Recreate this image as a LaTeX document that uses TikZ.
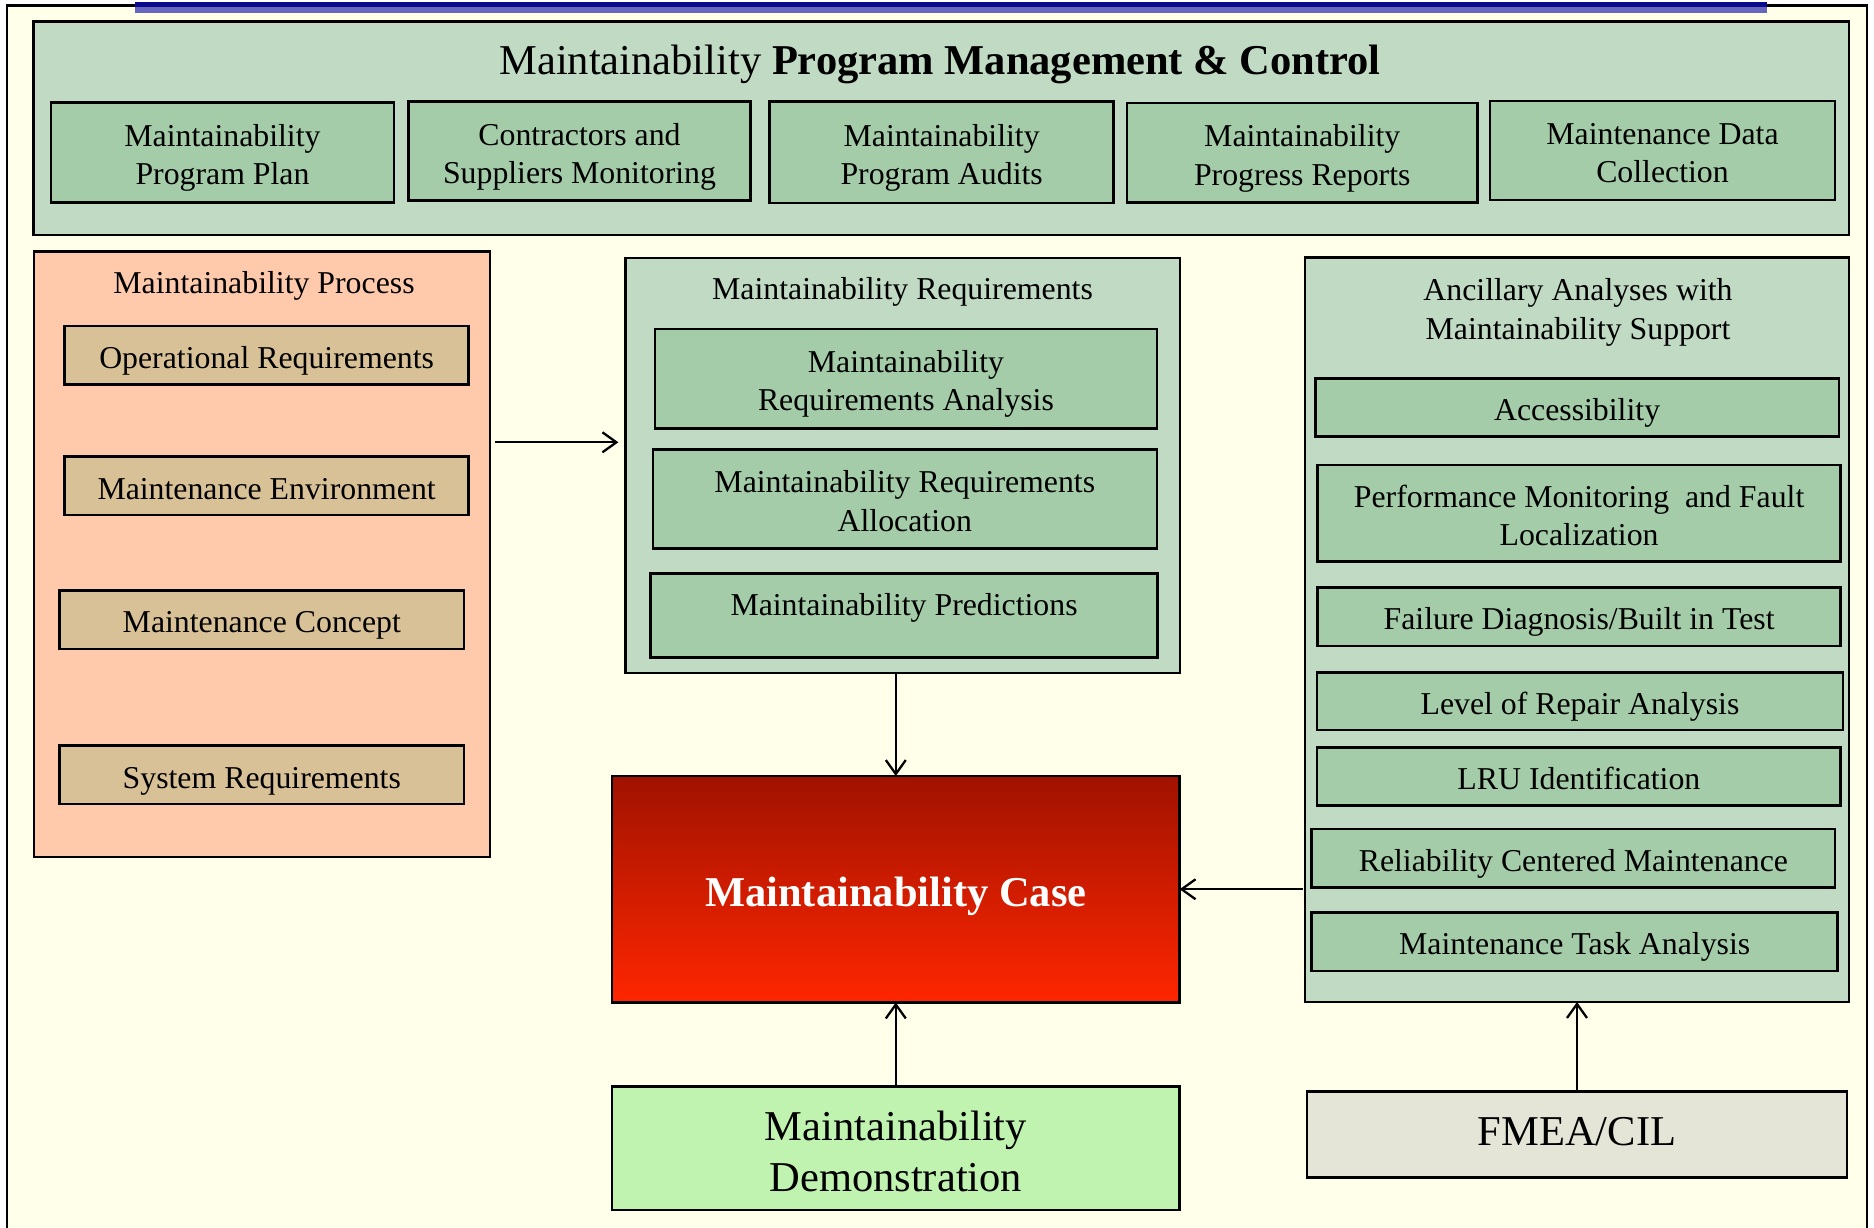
\documentclass[tikz,border=0pt]{standalone}
\usepackage{fontspec}
\setmainfont{Liberation Serif}
\usetikzlibrary{arrows.meta}
\definecolor{bgc}{RGB}{255,255,234}
\definecolor{panelg}{RGB}{192,218,196}
\definecolor{boxg}{RGB}{164,204,168}
\definecolor{salmon}{RGB}{255,202,172}
\definecolor{tanc}{RGB}{216,193,151}
\definecolor{demog}{RGB}{192,242,176}
\definecolor{fmeac}{RGB}{228,229,214}
\definecolor{navyc}{RGB}{10,10,140}
\definecolor{peric}{RGB}{102,102,190}
\definecolor{redtop}{RGB}{160,18,0}
\definecolor{redbot}{RGB}{255,38,0}
\newcommand\stA{\rule{0pt}{1.042em}}
\newcommand\stB{\rule[-0.216em]{0pt}{0pt}}
\newcommand\stAB{\rule[-0.216em]{0pt}{1.258em}}
\begin{document}
\begin{tikzpicture}[x=1pt,y=-1pt,
  every node/.style={inner sep=0pt, outer sep=0pt},
  sm/.style={font=\fontsize{31.8}{38.2}\selectfont, align=center},
  bg/.style={font=\fontsize{42.5}{51}\selectfont, align=center},
  panelbox/.style={draw=black, line width=2.5pt, fill=panelg},
  gbox/.style={draw=black, line width=2.5pt, fill=boxg, sm},
  tbox/.style={draw=black, line width=2.5pt, fill=tanc, sm},
  arr/.style={line width=2.3pt, -{Straight Barb[length=14pt,width=20pt,line width=2.3pt]}}
]
\useasboundingbox (0,0) rectangle (1874,1228);
\fill[white] (0,0) rectangle (1874,1228);
\fill[bgc] (7,6) rectangle (1867,1240);
\draw[line width=2.3pt] (7,1240) -- (7,5.5) -- (1867,5.5) -- (1867,1240);
\fill[navyc] (135,2.5) rectangle (1767,7);
\fill[peric] (135,7) rectangle (1767,13.5);

% top panel
\node[panelbox, minimum width=1815.3pt, minimum height=213.3pt] (pmc) at (941.35,128.35) {};
\node[bg, anchor=base] (pmct) at (940,74.2) {Maintainability \textbf{Program Management \& Control}};
\node[gbox, minimum width=343pt, minimum height=99.6pt] (b1) at (222.5,152.5) {\stA Maintainability\\Program Plan\stB};
\node[gbox, minimum width=342pt, minimum height=98.8pt] (b2) at (579.5,151.1) {\stA Contractors and\\Suppliers Monitoring\stB};
\node[gbox, minimum width=344.1pt, minimum height=101.4pt] (b3) at (941.65,152.3) {\stA Maintainability\\Program Audits\stB};
\node[gbox, minimum width=350.5pt, minimum height=99.7pt] (b4) at (1302.25,152.85) {\stA Maintainability\\Progress Reports\stB};
\node[gbox, minimum width=345pt, minimum height=99pt] (b5) at (1662.5,150.5) {\stA Maintenance Data\\Collection\stB};

% process panel
\node[draw=black, line width=2.5pt, fill=salmon, minimum width=456pt, minimum height=605.1pt] (proc) at (262,554.25) {};
\node[sm] (proct) at (264,285.4) {Maintainability Process};
\node[tbox, minimum width=404pt, minimum height=58.5pt] (opr) at (266.6,355.25) {\stAB Operational Requirements};
\node[tbox, minimum width=404pt, minimum height=58.6pt] (menv) at (266.6,485.9) {\stAB Maintenance Environment};
\node[tbox, minimum width=404.4pt, minimum height=58.7pt] (mcon) at (261.8,619.65) {\stAB Maintenance Concept};
\node[tbox, minimum width=404.4pt, minimum height=58.5pt] (sysr) at (261.8,774.95) {\stAB System Requirements};

% requirements panel
\node[panelbox, minimum width=554.6pt, minimum height=414.6pt] (req) at (902.7,465.5) {};
\node[sm] (reqt) at (902.5,292.1) {Maintainability Requirements};
\node[gbox, minimum width=501.7pt, minimum height=99.3pt] (mra) at (905.95,378.65) {\stA Maintainability\\Requirements Analysis\stB};
\node[gbox, minimum width=504pt, minimum height=99pt] (mral) at (904.8,498.8) {\stA Maintainability Requirements\\Allocation\stB};
\node[gbox, minimum width=507.1pt, minimum height=84pt] (mpred) at (904.05,615.3) {};
\node[sm] (mpredt) at (904.05,607.7) {Maintainability Predictions};

% ancillary panel
\node[panelbox, minimum width=544pt, minimum height=744.7pt] (anc) at (1577,629.65) {};
\node[sm] (anct) at (1578,312.4) {Ancillary Analyses with\\Maintainability Support};
\node[gbox, minimum width=523.4pt, minimum height=58.4pt] (acc) at (1577.1,407.5) {\stAB Accessibility};
\node[gbox, minimum width=523pt, minimum height=96.7pt] (pmf) at (1579.1,513.35) {\stA Performance Monitoring~ and Fault\\Localization\stB};
\node[gbox, minimum width=523pt, minimum height=58.3pt] (fdb) at (1579.1,616.85) {\stAB Failure Diagnosis/Built in Test};
\node[gbox, minimum width=525.6pt, minimum height=57.7pt] (lora) at (1580,701.15) {\stAB Level of Repair Analysis};
\node[gbox, minimum width=523.4pt, minimum height=58pt] (lru) at (1578.9,776.7) {\stAB LRU Identification};
\node[gbox, minimum width=523.3pt, minimum height=58.3pt] (rcm) at (1573.35,858.15) {\stAB Reliability Centered Maintenance};
\node[gbox, minimum width=526pt, minimum height=58.7pt] (mta) at (1574.7,941.65) {\stAB Maintenance Task Analysis};

% case, demonstration, FMEA
\node[draw=black, line width=2.5pt, top color=redtop, bottom color=redbot, minimum width=567.6pt, minimum height=226.5pt,
      bg, text=white, font=\fontsize{42.5}{51}\selectfont\bfseries] (case) at (895.8,889.25) {\stAB Maintainability Case};
\node[draw=black, line width=2.5pt, fill=demog, minimum width=567.6pt, minimum height=123.5pt, bg] (demo) at (895.8,1148.25) {\stA Maintainability\\Demonstration\stB};
\node[draw=black, line width=2.5pt, fill=fmeac, minimum width=540pt, minimum height=86pt] (fmea) at (1577,1134.5) {};
\node[bg, anchor=base] (fmeat) at (1577,1145) {FMEA/CIL};

% connectors
\draw[arr, shorten <=4.6pt, shorten >=7pt] (proc.east |- 0,442.3) -- (req.west |- 0,442.3);
\draw[arr] (case.north |- req.south) -- (case.north);
\draw[arr] (case.south |- demo.north) -- (case.south);
\draw[arr, shorten <=2.5pt] (anc.west |- case.east) -- (case.east);
\draw[arr] (fmea.north) -- (fmea.north |- anc.south);
\end{tikzpicture}
\end{document}
